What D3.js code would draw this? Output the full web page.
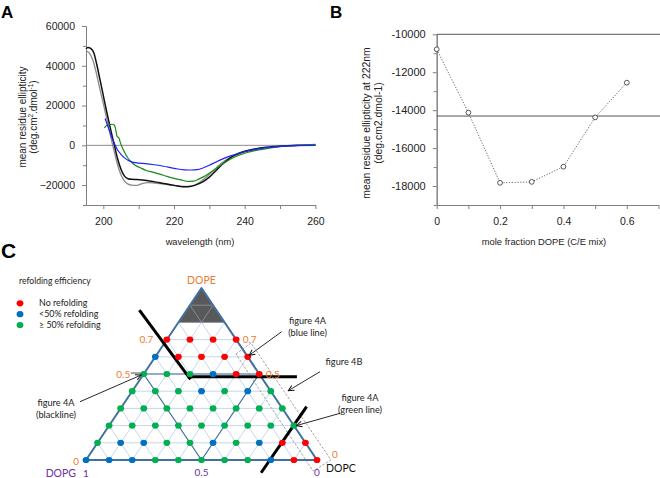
<!DOCTYPE html>
<html>
<head>
<meta charset="utf-8">
<script src="https://cdn.jsdelivr.net/npm/d3@7"></script>
<style>
body { margin: 0; background: #fff; }
svg { display: block; }
</style>
</head>
<body>
<svg width="660" height="478"></svg>
<script>
// ---- panel A: CD spectra (wavelength nm, mean residue ellipticity) ----
const wlTicks = [200, 220, 240, 260];
const wlMinor = [210, 230, 250];
const mreTicks = [-20000, 0, 20000, 40000, 60000];
const mreMinor = [-30000, -10000, 10000, 30000, 50000];

const grayCurve = [[195.1, 47500], [196, 46500], [197, 43000], [198, 36500], [199, 28500], [200, 21000], [201, 13000], [202, 5000], [203, -2500], [204, -9500], [205, -14800], [206, -18000], [207, -19500], [208, -20000], [209.5, -20100], [211, -19200], [212.5, -18800], [214, -18900], [216, -19300], [218, -19700], [220, -20200], [222, -20600], [224, -20700], [225.5, -20300], [227, -18800], [229, -16200], [231, -13000], [233, -9600], [235, -7000], [237, -5200], [240, -3400], [243, -2000], [247, -1000], [252, -300], [256, 0], [260, 300]];
const blackCurve = [[195.1, 48500], [195.6, 49200], [196.5, 48600], [197.3, 46500], [198.1, 41000], [199, 33500], [200, 25000], [201, 16500], [202, 8500], [203, 1000], [204, -6500], [205, -12000], [206, -15500], [207, -16800], [208, -17100], [209.5, -17200], [211, -17400], [213, -17900], [215, -18500], [217, -19200], [219, -19800], [221, -20400], [223, -20800], [224.5, -20700], [226, -20000], [228, -18500], [230, -16000], [232, -12500], [234, -9000], [236, -6200], [238, -4300], [240, -3000], [243, -1800], [246, -1000], [250, -400], [255, 0], [260, 200]];
const greenCurve = [[200.3, 8800], [200.8, 9800], [201.5, 10400], [202.5, 10600], [203.2, 10000], [203.6, 7000], [203.9, 4500], [204.4, 3800], [204.8, 1500], [205.3, -800], [206, -3500], [207, -6500], [208, -8500], [209, -10000], [210.5, -11300], [212, -12500], [214, -13500], [216, -14500], [218, -15600], [220, -16600], [222, -17400], [224, -18100], [225.5, -18000], [227, -17000], [229, -15200], [231, -12800], [233, -10300], [235, -8000], [237, -6000], [239, -4600], [241, -3500], [244, -2300], [247, -1400], [250, -700], [254, -200], [260, 500]];
const blueCurve = [[200.5, 13500], [201, 11000], [201.5, 8500], [202, 6000], [202.5, 3500], [203, 1500], [203.5, -500], [204, -2200], [205, -4500], [206, -6300], [207, -7500], [208, -8300], [209.5, -8800], [211, -9100], [213, -9400], [215, -9900], [217, -10500], [219, -11200], [221, -11900], [223, -12300], [225, -12400], [226.5, -12200], [228, -11500], [230, -10000], [232, -8300], [234, -6700], [236, -5300], [238, -4100], [240, -3100], [243, -2000], [246, -1200], [250, -500], [254, -100], [260, 0]];

// ---- panel B: ellipticity at 222 nm vs DOPE mole fraction ----
const dopeFraction = [0, 0.1, 0.2, 0.3, 0.4, 0.5, 0.6];
const mre222 = [-10790, -14130, -17830, -17780, -16980, -14380, -12550];
const fracTicks = [0, 0.2, 0.4, 0.6];
const fracMinor = [0.1, 0.3, 0.5, 0.7];
const mre222Ticks = [-18000, -16000, -14000, -12000, -10000];
const mre222Minor = [-19000, -17000, -15000, -13000, -11000];
const refLevels = [-10000, -14310];

// ---- panel C: ternary refolding map (rows = DOPE 0..0.7, left->right = DOPC 0..) ----
// N = no refolding, L = <50% refolding, H = >=50% refolding
const dopeRows = [0, 0.1, 0.2, 0.3, 0.4, 0.5, 0.6, 0.7];
const refoldRows = [
  ['L', 'L', 'L', 'H', 'H', 'H', 'H', 'H', 'L', 'N', 'N'],
  ['H', 'L', 'L', 'H', 'H', 'L', 'H', 'L', 'N', 'N'],
  ['H', 'H', 'H', 'H', 'H', 'H', 'H', 'H', 'H'],
  ['H', 'H', 'H', 'H', 'H', 'H', 'H', 'H'],
  ['H', 'H', 'H', 'L', 'H', 'L', 'H'],
  ['H', 'H', 'H', 'L', 'N', 'N'],
  ['L', 'N', 'N', 'N', 'N'],
  ['N', 'N', 'N', 'N']
];
const refoldKeys = ['N', 'L', 'H'];
const refoldNames = ['No refolding', '<50% refolding', '\u2265 50% refolding'];
const dopeLabels = [0.7, 0.5];

const svg = d3.select('svg');
const arial = 'Liberation Sans, Arial, sans-serif';
const calibri = 'Lato, Noto Sans, sans-serif';
const axisGray = '#7f7f7f';

const styleAxis = (g, size) => {
  g.attr('font-family', arial).attr('font-size', size);
  g.select('.domain').attr('stroke', axisGray);
  g.selectAll('.tick line').attr('stroke', axisGray);
  g.selectAll('.tick text').attr('fill', '#222');
};

// ================= panel A =================
const xA = d3.scaleLinear().domain([195.1, 260]).range([86, 315.4]);
const yA = d3.scaleLinear().domain([-30000, 60000]).range([205, 26]);

svg.append('text').attr('x', 1).attr('y', 18).attr('font-family', arial)
  .attr('font-weight', 'bold').attr('font-size', 17).text('A');

svg.append('g').attr('transform', 'translate(0,205)')
  .call(d3.axisBottom(xA).tickValues(wlTicks).tickSize(4).tickSizeOuter(0).tickPadding(9).tickFormat(d3.format('d')))
  .call(g => styleAxis(g, 10.5));
svg.append('g').attr('transform', 'translate(0,205)')
  .call(d3.axisBottom(xA).tickValues(wlMinor).tickSize(4).tickSizeOuter(0).tickFormat(''))
  .call(g => styleAxis(g, 10.5));
svg.append('g').attr('transform', 'translate(86,0)')
  .call(d3.axisLeft(yA).tickValues(mreTicks).tickSize(4).tickSizeOuter(0).tickPadding(7).tickFormat(d3.format('d')))
  .call(g => styleAxis(g, 10.5));
svg.append('g').attr('transform', 'translate(86,0)')
  .call(d3.axisLeft(yA).tickValues(mreMinor).tickSize(3).tickSizeOuter(0).tickFormat(''))
  .call(g => styleAxis(g, 10.5));

svg.append('line')
  .attr('x1', xA(195.1)).attr('x2', xA(260)).attr('y1', yA(0)).attr('y2', yA(0))
  .attr('stroke', '#8c8c8c').attr('stroke-width', 1);

const lineA = d3.line().x(d => xA(d[0])).y(d => yA(d[1])).curve(d3.curveMonotoneX);
const seriesA = [
  { data: grayCurve, color: '#8a8a8a', w: 1.3 },
  { data: blackCurve, color: '#111', w: 1.5 },
  { data: greenCurve, color: '#1a8a1a', w: 1.2 },
  { data: blueCurve, color: '#2020ff', w: 1.2 }
];
svg.append('g').selectAll('path').data(seriesA).enter().append('path')
  .attr('d', s => lineA(s.data)).attr('fill', 'none')
  .attr('stroke', s => s.color).attr('stroke-width', s => s.w);

svg.append('text').attr('x', 200).attr('y', 245).attr('text-anchor', 'middle')
  .attr('font-family', arial).attr('font-size', 9.3).attr('fill', '#222').text('wavelength (nm)');

const yLabA = svg.append('g').attr('transform', 'translate(26,117) rotate(-90)')
  .attr('font-family', arial).attr('font-size', 10).attr('fill', '#222').attr('text-anchor', 'middle');
yLabA.append('text').attr('y', 0).text('mean residue ellipticity');
const yLabA2 = yLabA.append('text').attr('y', 11);
yLabA2.append('tspan').text('(deg.cm');
yLabA2.append('tspan').attr('font-size', 6.5).attr('dy', -4).text('2');
yLabA2.append('tspan').attr('dy', 4).text('.dmol');
yLabA2.append('tspan').attr('font-size', 6.5).attr('dy', -4).text('-1');
yLabA2.append('tspan').attr('dy', 4).text(')');

// ================= panel B =================
const xB = d3.scaleLinear().domain([0, 0.7]).range([436.7, 658.5]);
const yB = d3.scaleLinear().domain([-19000, -10000]).range([205, 34.3]);

svg.append('text').attr('x', 330).attr('y', 18).attr('font-family', arial)
  .attr('font-weight', 'bold').attr('font-size', 17).text('B');

svg.append('g').attr('transform', 'translate(0,205)')
  .call(d3.axisBottom(xB).tickValues(fracTicks).tickSize(4).tickSizeOuter(0).tickPadding(9)
    .tickFormat(d => d === 0 ? '0' : d3.format('.1f')(d)))
  .call(g => styleAxis(g, 10.5));
svg.append('g').attr('transform', 'translate(0,205)')
  .call(d3.axisBottom(xB).tickValues(fracMinor).tickSize(4).tickSizeOuter(0).tickFormat(''))
  .call(g => styleAxis(g, 10.5));
svg.append('g').attr('transform', 'translate(436.7,0)')
  .call(d3.axisLeft(yB).tickValues(mre222Ticks).tickSize(4).tickSizeOuter(0).tickPadding(7)
    .tickFormat(d => String(d)))
  .call(g => styleAxis(g, 11));
svg.append('g').attr('transform', 'translate(436.7,0)')
  .call(d3.axisLeft(yB).tickValues(mre222Minor).tickSize(3).tickSizeOuter(0).tickFormat(''))
  .call(g => styleAxis(g, 11));

svg.append('g').selectAll('line').data(refLevels).enter().append('line')
  .attr('x1', xB(0)).attr('x2', 660).attr('y1', d => yB(d)).attr('y2', d => yB(d))
  .attr('stroke', '#555').attr('stroke-width', 1);

const ptsB = dopeFraction.map((f, i) => [f, mre222[i]]);
svg.append('path').attr('d', d3.line().x(d => xB(d[0])).y(d => yB(d[1]))(ptsB))
  .attr('fill', 'none').attr('stroke', '#555').attr('stroke-width', 0.9)
  .attr('stroke-dasharray', '1.2,1.6');
svg.append('g').selectAll('circle').data(ptsB).enter().append('circle')
  .attr('cx', d => xB(d[0])).attr('cy', d => yB(d[1])).attr('r', 2.4)
  .attr('fill', '#fff').attr('stroke', '#444').attr('stroke-width', 0.9);

svg.append('text').attr('x', 544).attr('y', 245).attr('text-anchor', 'middle')
  .attr('font-family', arial).attr('font-size', 9.4).attr('fill', '#222').text('mole fraction DOPE (C/E mix)');

const yLabB = svg.append('g').attr('transform', 'translate(370,123) rotate(-90)')
  .attr('font-family', arial).attr('font-size', 10.4).attr('fill', '#222').attr('text-anchor', 'middle');
yLabB.append('text').attr('y', 0).text('mean residue ellipticity at 222nm');
yLabB.append('text').attr('y', 12).text('(deg.cm2.dmol-1)');

// ================= panel C =================
const tX = d3.scaleLinear().domain([0, 1]).range([86, 317]);
const tY = d3.scaleLinear().domain([0, 1]).range([460, 288]);
const tern = (dope, dopc) => [tX(dopc + dope / 2), tY(dope)];
const segLine = d3.line();
const outline = '#41719c';
const refoldColor = d3.scaleOrdinal().domain(refoldKeys).range(['#ff0000', '#0070c0', '#00b050']);

svg.append('text').attr('x', 1).attr('y', 258).attr('font-family', arial)
  .attr('font-weight', 'bold').attr('font-size', 21).text('C');

// legend
svg.append('text').attr('x', 19).attr('y', 283.5).attr('font-family', calibri)
  .attr('font-size', 8.6).attr('fill', '#222').text('refolding efficiency');
const leg = svg.append('g').selectAll('g').data(refoldKeys).enter().append('g')
  .attr('transform', (d, i) => `translate(20,${303.3 + i * 10.9})`);
leg.append('ellipse').attr('rx', 3.4).attr('ry', 3.1).attr('fill', d => refoldColor(d));
leg.append('text').attr('x', 19).attr('y', 3).attr('font-family', calibri)
  .attr('font-size', 8.9).attr('fill', '#222').text((d, i) => refoldNames[i]);

// grid lines
const steps = d3.range(1, 10).map(k => k / 10);
const gridSegs = [];
steps.forEach(t => {
  gridSegs.push([tern(t, 0), tern(t, 1 - t)]);
  gridSegs.push([tern(0, t), tern(1 - t, t)]);
  gridSegs.push([tern(0, 1 - t), tern(1 - t, 0)]);
});
svg.append('g').selectAll('path').data(gridSegs).enter().append('path')
  .attr('d', d => segLine(d)).attr('stroke', '#b8cbe8').attr('stroke-width', 0.8).attr('fill', 'none');

// DOPE >= 0.8 region (shaded)
const topPoly = [tern(1, 0), tern(0.8, 0), tern(0.8, 0.2)];
svg.append('clipPath').attr('id', 'topClip').append('path').attr('d', segLine(topPoly) + 'Z');
svg.append('path').attr('d', segLine(topPoly) + 'Z').attr('fill', '#595959');
svg.append('g').attr('clip-path', 'url(#topClip)').selectAll('path').data(gridSegs).enter().append('path')
  .attr('d', d => segLine(d)).attr('stroke', '#8d97a6').attr('stroke-width', 0.8).attr('fill', 'none');

// medial triangle
const medial = [tern(0.5, 0), tern(0.5, 0.5), tern(0, 0.5)];
svg.append('path').attr('d', segLine(medial) + 'Z').attr('fill', 'none')
  .attr('stroke', outline).attr('stroke-width', 1.1);
// outline
svg.append('path').attr('d', segLine([tern(1, 0), tern(0, 0), tern(0, 1)]) + 'Z')
  .attr('fill', 'none').attr('stroke', outline).attr('stroke-width', 2).attr('stroke-linejoin', 'round');

// dashed box along the DOPE/DOPC edge
const boxCorners = [[0.616, 0.341], [0.680, 0.374], [0.0, 1.061], [-0.064, 1.015]];
svg.append('path').attr('d', segLine(boxCorners.map(c => tern(c[0], c[1]))) + 'Z')
  .attr('fill', 'none').attr('stroke', '#8a8a8a').attr('stroke-width', 0.8).attr('stroke-dasharray', '2.5,1.5');

// refolding points
const pts = [];
refoldRows.forEach((row, r) => row.forEach((c, j) => pts.push({ dope: dopeRows[r], dopc: j / 10, c })));

// thick black lines (figure 4A black / 4B / 4A green)
const cutLines = [
  [[0.872, -0.205], [0.469, 0.218]],
  [[0.484, 0.212], [0.484, 0.671]],
  [[0.31, 0.80], [-0.074, 0.795]]
];
svg.append('g').selectAll('path').data(cutLines).enter().append('path')
  .attr('d', d => segLine(d.map(p => tern(p[0], p[1])))).attr('stroke', '#000')
  .attr('stroke-width', 3).attr('fill', 'none');

svg.append('g').selectAll('ellipse').data(pts).enter().append('ellipse')
  .attr('cx', d => tern(d.dope, d.dopc)[0]).attr('cy', d => tern(d.dope, d.dopc)[1])
  .attr('rx', 3.4).attr('ry', 3.1).attr('fill', d => refoldColor(d.c));

// axis labels
const orange = '#ed7d31', purple = '#7030a0';
const lab = (x, y, t, color, size, anchor) => svg.append('text').attr('x', x).attr('y', y)
  .attr('font-family', calibri).attr('font-size', size).attr('fill', color)
  .attr('text-anchor', anchor || 'start').text(t);
lab(tern(1, 0)[0], 283.5, 'DOPE', orange, 10.5, 'middle');
dopeLabels.forEach(v => {
  const l = tern(v, 0), r = tern(v, 1 - v);
  lab(l[0] - 13.5, l[1] + 3.5, String(v), orange, 10, 'end');
  lab(r[0] + 6.5, r[1] + 3.5, String(v), orange, 10, 'start');
});
lab(tern(0, 0)[0] - 7, 465, '0', orange, 10, 'end');
lab(tern(0, 1)[0] + 15, 458, '0', orange, 10, 'start');
lab(tern(0, 0)[0] - 10, 477, 'DOPG', purple, 10.5, 'end');
lab(tern(0, 0)[0], 477, '1', purple, 10, 'middle');
lab(tern(0, 0.5)[0], 475.5, '0.5', purple, 10, 'middle');
lab(tern(0, 1)[0], 476, '0', purple, 10, 'middle');
lab(tern(0, 1)[0] + 9, 472, 'DOPC', '#111', 10.5, 'start');

// short tick beside left 0.5
const half = tern(0.5, 0);
svg.append('line').attr('x1', half[0] - 13).attr('x2', half[0] - 3).attr('y1', half[1] - 1).attr('y2', half[1] - 1)
  .attr('stroke', '#222').attr('stroke-width', 0.8);

// annotations
svg.append('defs').append('marker').attr('id', 'ah').attr('viewBox', '0 0 10 10')
  .attr('refX', 9).attr('refY', 5).attr('markerWidth', 7).attr('markerHeight', 7)
  .attr('markerUnits', 'userSpaceOnUse').attr('orient', 'auto')
  .append('path').attr('d', 'M1,1 L9,5 L1,9').attr('fill', 'none').attr('stroke', '#111').attr('stroke-width', 1.4);

const notes = [
  { lines: ['figure 4A', '(blue line)'], x: 307.5, y: 324, from: [281.7, 331.7], to: tern(0.6, 0.4), off: [1.5, -1.5] },
  { lines: ['figure 4B'], x: 344, y: 365, from: [320, 371.7], to: [288.3, 390.7], off: [0, 0] },
  { lines: ['figure 4A', '(green line)'], x: 360, y: 401, from: [340, 413.3], to: tern(0.2, 0.8), off: [2.5, 0] },
  { lines: ['figure 4A', '(blackline)'], x: 56, y: 406, from: [80, 401.7], to: tern(0.5, 0), off: [-2.5, 1] }
];
notes.forEach(n => {
  n.lines.forEach((t, i) => lab(n.x, n.y + i * 11.5, t, '#222', 9.2, 'middle'));
  svg.append('line').attr('x1', n.from[0]).attr('y1', n.from[1])
    .attr('x2', n.to[0] + n.off[0]).attr('y2', n.to[1] + n.off[1])
    .attr('stroke', '#111').attr('stroke-width', 0.9).attr('marker-end', 'url(#ah)');
});
</script>
</body>
</html>
